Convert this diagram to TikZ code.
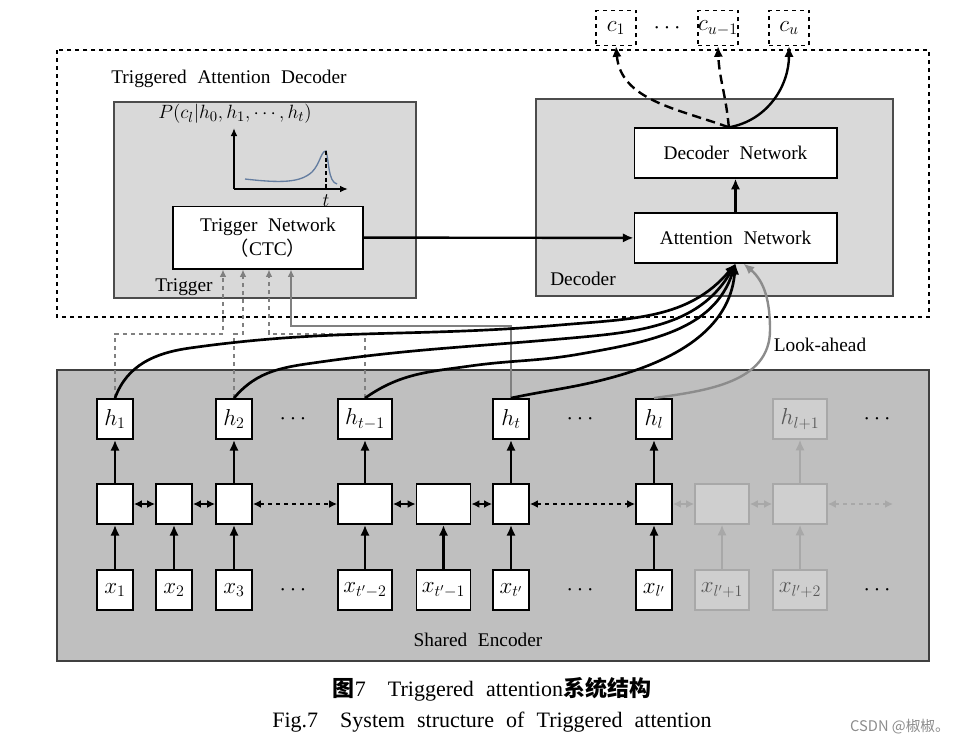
\documentclass[tikz,border=0pt]{standalone}
\usepackage{fontspec}
\setmainfont{Liberation Serif}
\newfontfamily\cjk{Noto Sans CJK SC}
\usetikzlibrary{arrows.meta}

\newcommand{\wsp}{\hspace{0.55em}}
\newcommand{\lbl}{\fontsize{14.5}{17}\selectfont}
\newcommand{\mth}{\fontsize{17}{19}\selectfont}

\definecolor{panel}{gray}{0.85}
\definecolor{encfill}{gray}{0.75}
\definecolor{faded}{gray}{0.66}
\definecolor{curveblue}{RGB}{100,125,160}

\begin{document}
\begin{tikzpicture}
        [x=0.75pt,y=-0.75pt,>={Latex[length=8pt,width=7pt]},
         every node/.style={inner sep=0pt,font=\lbl},
         cell/.style={draw,fill=white,line width=1.4pt,minimum width=27pt,minimum height=30pt,font=\mth},
         wcell/.style={cell,minimum width=40.5pt},
         ghost/.style={draw=faded,fill=black!19,text=black!65,line width=1.2pt},
         net/.style={draw,fill=white,line width=1pt,minimum width=152pt,minimum height=37.5pt},
         cbox/.style={draw,fill=white,dashed,line width=1.2pt,minimum width=30pt,minimum height=26pt,font=\mth},
         up/.style={->,line width=1.8pt},
         gup/.style={->,line width=1.4pt,faded},
         link/.style={<->,line width=1.8pt,>={Latex[length=6pt,width=6pt]}},
         glink/.style={link,line width=1.4pt,faded},
         att/.style={->,line width=2pt},
         feed/.style={->,line width=1.1pt,black!50,>={Latex[length=5.5pt,width=5pt]}}]
        \useasboundingbox (0,0) rectangle (967,743);

        % panels
        \draw[dashed,line width=1pt] (57,50) rectangle (929,317);
        \draw[draw=black!70,fill=panel,line width=1pt] (114,102) rectangle (416,298);
        \draw[draw=black!70,fill=panel,line width=1pt] (536,99) rectangle (893,296);
        \draw[draw=black!75,fill=encfill,line width=1pt] (57,370) rectangle (929,661);

        \node (tadlbl) at (229,79) {Triggered\wsp Attention\wsp Decoder};
        \node (trglbl) at (184,287) {Trigger};
        \node (declbl) at (583,279) {Decoder};
        \node (lalbl) at (820,345) {Look-ahead};
        \node (enclbl) at (478,640) {Shared\wsp Encoder};

        % CTC spike
        \coordinate (o) at (234,189);
        \coordinate (ytop) at (234,128);
        \coordinate (xend) at (348,189);
        \draw[->,line width=1.3pt,>={Latex[length=6pt,width=5pt]}] (o) -- (ytop);
        \draw[->,line width=1.3pt,>={Latex[length=6pt,width=5pt]}] (o) -- (xend);
        \draw[curveblue,line width=1pt] (245,179) .. controls (280,183) and (300,183) .. (312,172)
            .. controls (320,164) and (321,151) .. (326,151)
            .. controls (329,160) and (328,182) .. (337,184);
        \draw[densely dashed,line width=0.8pt] (326,151) -- (326,189);
        \node[font=\fontsize{15}{17}\selectfont] (plbl) at (235,114) {$P(c_l|h_0,h_1,\cdots,h_t)$};
        \node[font=\fontsize{15}{17}\selectfont] (tlbl) at (326,201) {$t$};

        % decoder side
        \node[net,minimum width=142.5pt,minimum height=47pt,align=center] (trn) at (268,237.5)
            {Trigger\wsp Network\\[1pt]{\cjk （}CTC{\cjk ）}};
        \node[net] (dcn) at (735.5,153) {Decoder\wsp Network};
        \node[net] (atn) at (735.5,238) {Attention\wsp Network};

        \node[cbox] (c1) at (616,28) {$c_1$};
        \node[font=\mth] (cdots) at (667,28) {$\cdots$};
        \node[cbox] (cu1) at (718,28) {$c_{u-1}$};
        \node[cbox] (cu) at (789,28) {$c_u$};

        % encoder
        \node[cell] (h1) at (115,419) {$h_1$};
        \node[cell] (h2) at (234,419) {$h_2$};
        \node[wcell] (ht1) at (365,419) {$h_{t-1}$};
        \node[cell] (ht) at (511,419) {$h_t$};
        \node[cell] (hl) at (654,419) {$h_l$};
        \node[wcell,ghost] (hl1) at (800,419) {$h_{l+1}$};

        \node[cell] (m1) at (115,504) {};
        \node[cell] (m2) at (174,504) {};
        \node[cell] (m3) at (234,504) {};
        \node[wcell] (m4) at (365,504) {};
        \node[wcell] (m5) at (443.5,504) {};
        \node[cell] (m6) at (511,504) {};
        \node[cell] (m7) at (654,504) {};
        \node[wcell,ghost] (m8) at (722,504) {};
        \node[wcell,ghost] (m9) at (800,504) {};
        \coordinate (mend) at (893,504);

        \node[cell] (x1) at (115,590) {$x_1$};
        \node[cell] (x2) at (174,590) {$x_2$};
        \node[cell] (x3) at (234,590) {$x_3$};
        \node[wcell] (x4) at (365,590) {$x_{t'-2}$};
        \node[wcell] (x5) at (443.5,590) {$x_{t'-1}$};
        \node[cell] (x6) at (511,590) {$x_{t'}$};
        \node[cell] (x7) at (654,590) {$x_{l'}$};
        \node[wcell,ghost] (x8) at (722,590) {$x_{l'+1}$};
        \node[wcell,ghost] (x9) at (800,590) {$x_{l'+2}$};

        \foreach \d/\px/\py in {hd1/293/419, hd2/580/419, hd3/877/419, xd1/293/590, xd2/580/590, xd3/877/590}
            \node[font=\mth] (\d) at (\px,\py) {$\cdots$};

        \foreach \from/\to in {x1/m1, x2/m2, x3/m3, x4/m4, x5/m5, x6/m6, x7/m7, m1/h1, m3/h2, m4/ht1, m6/ht, m7/hl}
            \draw[up] (\from) -- (\to);
        \foreach \from/\to in {x8/m8, x9/m9, m9/hl1}
            \draw[gup] (\from) -- (\to);
        \foreach \from/\to in {m1/m2, m2/m3, m4/m5, m5/m6}
            \draw[link] (\from) -- (\to);
        \foreach \from/\to in {m3/m4, m6/m7}
            \draw[link,dashed] (\from) -- (\to);
        \foreach \from/\to in {m7/m8, m8/m9}
            \draw[glink] (\from) -- (\to);
        \draw[glink,dashed] (m9) -- (mend);

        % trigger inputs
        \coordinate (f1) at (223,334);
        \coordinate (f2) at (243,334);
        \coordinate (f3) at (269,334);
        \coordinate (f4) at (291,326);
        \foreach \h/\f in {h1/f1, h2/f2, ht1/f3}
            \draw[feed,dashed] (\h.north) |- (\f) -- (\f |- trn.south);
        \draw[feed] (ht.north) |- (f4) -- (f4 |- trn.south);

        % attention inputs
        \draw[att] (h1.north) to[out=70,in=188] (190,348) to[out=8,in=185] (560,325) to[out=5,in=230] (atn.south);
        \draw[att] (h2.north) to[out=50,in=188] (320,362) to[out=8,in=185] (560,339) to[out=5,in=240] (atn.south);
        \draw[att] (ht1.north) to[out=35,in=188] (470,366) to[out=8,in=190] (580,354) to[out=10,in=252] (atn.south);
        \draw[att] (ht.north) to[out=12,in=195] (610,378) to[out=15,in=265] (atn.south);
        \draw[->,line width=1.8pt,black!45] (hl.north) to[out=8,in=270] (770,330) to[out=90,in=-40] ([xshift=6pt]atn.south);

        \draw[->,line width=1.8pt] (trn) -- (atn);
        \draw[->,line width=1.8pt] (atn) -- (dcn);

        \coordinate (dtop) at ([xshift=-5pt]dcn.north);
        \draw[->,line width=1.8pt,dash pattern=on 7pt off 4pt] (dtop) to[out=160,in=-85] (c1.south);
        \draw[->,line width=1.8pt,dash pattern=on 7pt off 4pt] (dtop) to[out=95,in=-88] (cu1.south);
        \draw[->,line width=1.8pt] (dtop) to[out=10,in=-90] (cu.south);

        % caption
        \node[font=\fontsize{16.5}{19}\selectfont] (cap1) at (492,689)
            {{\cjk\bfseries 图}7\hspace{1em}Triggered\wsp attention{\cjk\bfseries 系统结构}};
        \node[font=\fontsize{16.5}{19}\selectfont] (cap2) at (492,722)
            {Fig.7\hspace{1em}System\wsp structure\wsp of\wsp Triggered\wsp attention};
        \node[font=\cjk\fontsize{11}{13}\selectfont,text=black!45] (wm) at (900,727) {CSDN @椒椒。};

      \end{tikzpicture}
\end{document}
